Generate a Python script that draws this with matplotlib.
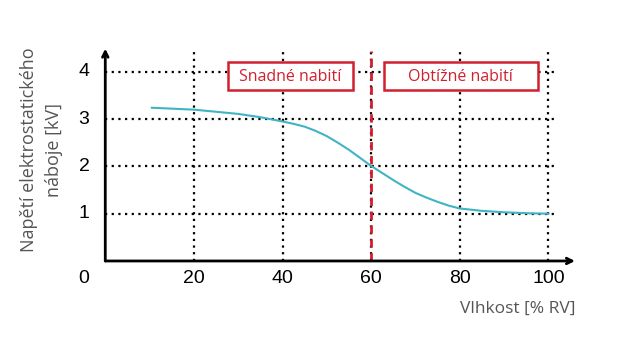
import matplotlib
matplotlib.use('Agg')
import matplotlib.pyplot as plt
from matplotlib.patches import Rectangle

# data
humidity = [10.5, 20, 30, 35, 40, 42.5, 45, 47.5, 50, 52.5, 55, 57.5, 60, 62.5, 65, 67.5, 70,
            72.5, 75, 77.5, 80, 85, 90, 95, 100]
voltage = [3.24, 3.20, 3.11, 3.04, 2.95, 2.90, 2.84, 2.75, 2.64, 2.50, 2.35, 2.18, 2.01, 1.86,
           1.71, 1.57, 1.44, 1.34, 1.25, 1.17, 1.11, 1.06, 1.03, 1.01, 1.00]
x_ticks = [20, 40, 60, 80, 100]
y_ticks = [1, 2, 3, 4]
zones = ['Snadné nabití', 'Obtížné nabití']
zone_bounds = [(27.7, 55.9), (62.8, 97.7)]
threshold = 60

red = '#d0202e'
teal = '#40b4c4'
gray = '#555555'
xmax, ymax = 106, 4.44

fig = plt.figure(figsize=(6.2, 3.4), dpi=100)
ax = fig.add_axes([0.1698, 0.2324, 0.7576, 0.6176])
ax.set_xlim(0, xmax)
ax.set_ylim(0, ymax)
ax.axis('off')

# dotted grid
for x in x_ticks:
    ax.plot([x, x], [0, ymax], ls=(0, (1, 2)), color='black', lw=1.6, zorder=1)
for y in y_ticks:
    ax.plot([0, 101.5], [y, y], ls=(0, (1, 2)), color='black', lw=1.6, zorder=1)

# zone boxes
for label, (x0, x1) in zip(zones, zone_bounds):
    ax.add_patch(Rectangle((x0, 3.61), x1 - x0, 0.59, facecolor='white',
                           edgecolor=red, lw=1.8, zorder=3))
    ax.text((x0 + x1) / 2, 3.9, label, color=red, fontsize=11.5,
            family='Open Sans', ha='center', va='center', zorder=4)

ax.plot([threshold, threshold], [0, ymax], ls=(0, (3, 2)), color=red, lw=2, zorder=2)
ax.plot(humidity, voltage, color=teal, lw=1.5, zorder=5)

# axes with arrows
ax.annotate('', xy=(xmax, 0), xytext=(0, 0), annotation_clip=False,
            arrowprops=dict(arrowstyle='->', lw=2, color='black', shrinkA=0, shrinkB=0))
ax.annotate('', xy=(0, ymax + 0.05), xytext=(0, 0), annotation_clip=False,
            arrowprops=dict(arrowstyle='->', lw=2, color='black', shrinkA=0, shrinkB=0))

tick_font = dict(fontsize=14, family='Liberation Sans', color='black')
for x in x_ticks:
    ax.text(x, -0.38, str(x), ha='center', va='center', **tick_font)
ax.text(-4.8, -0.38, '0', ha='center', va='center', **tick_font)
for y in y_ticks:
    ax.text(-4.8, y, str(y), ha='center', va='center', **tick_font)

fig.text(0.929, 0.092, 'Vlhkost [% RV]', ha='right', va='center',
         fontsize=12.5, family='Open Sans', color=gray)
fig.text(0.067, 0.56, 'Napětí elektrostatického\nnáboje [kV]', ha='center', va='center',
         rotation=90, fontsize=13, family='Open Sans', color=gray, linespacing=1.45)

fig.savefig('out.png', dpi=100)
